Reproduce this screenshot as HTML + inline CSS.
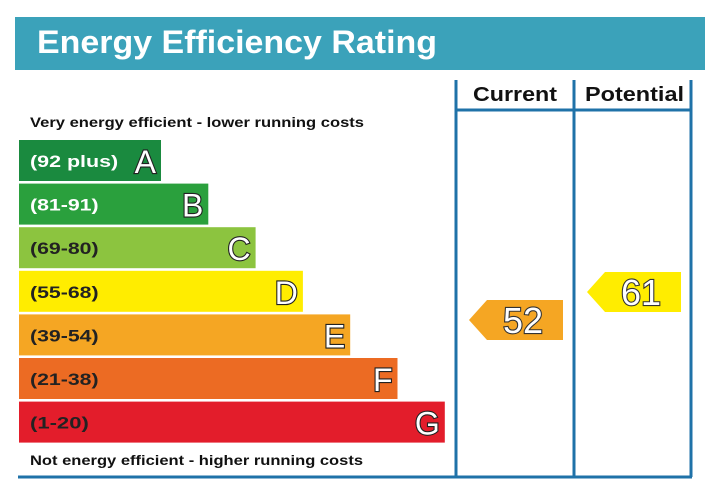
<!DOCTYPE html>
<html><head><meta charset="utf-8"><style>
html,body{margin:0;padding:0;background:#fff;}
svg{display:block;font-family:"Liberation Sans",Arial,sans-serif;}
</style></head><body>
<svg width="705" height="500" viewBox="0 0 705 500">
<rect x="15" y="17" width="690" height="53" fill="#3ba2ba"/>
<text x="37" y="53" font-size="32" font-weight="bold" fill="#fff" textLength="400" lengthAdjust="spacingAndGlyphs">Energy Efficiency Rating</text>
<text x="30" y="127" font-size="14" font-weight="bold" fill="#111" textLength="334" lengthAdjust="spacingAndGlyphs">Very energy efficient - lower running costs</text>
<text x="30" y="465" font-size="14" font-weight="bold" fill="#111" textLength="333" lengthAdjust="spacingAndGlyphs">Not energy efficient - higher running costs</text>
<g id="bands"></g>
<g id="arrows"></g>
<g fill="none" stroke="#1f72a8" stroke-width="3">
<line x1="456" y1="80" x2="456" y2="477"/>
<line x1="574" y1="80" x2="574" y2="477"/>
<line x1="691" y1="80" x2="691" y2="477"/>
<line x1="456" y1="110" x2="691" y2="110"/>
<line x1="18" y1="477" x2="692" y2="477"/>
</g>
<text x="473" y="101" font-size="20" font-weight="bold" fill="#111" textLength="84" lengthAdjust="spacingAndGlyphs">Current</text>
<text x="585" y="101" font-size="20" font-weight="bold" fill="#111" textLength="99" lengthAdjust="spacingAndGlyphs">Potential</text>
</svg>
<script>
const letters=["A","B","C","D","E","F","G"];
const ranges=["(92 plus)","(81-91)","(69-80)","(55-68)","(39-54)","(21-38)","(1-20)"];
const colors=["#1a8a3f","#2aa03d","#8cc43f","#ffed00","#f5a623","#ec6b23","#e31d2b"];
const ratingNames=["current","potential"];
const ratingValues=[52,61];
const ratingColors=["#f5a623","#ffed00"];
const NS="http://www.w3.org/2000/svg";
const bandY=i=>140+i*43.6, bandW=i=>142+i*47.3;
const valY=v=>292+(61-v)*3.11;
const colX=[469,587];
const bands=document.getElementById("bands");
function mk(tag,attrs,parent){const e=document.createElementNS(NS,tag);for(const k in attrs)e.setAttribute(k,attrs[k]);parent.appendChild(e);return e;}
letters.forEach((L,i)=>{
 const g=mk("g",{},bands);
 
 
 mk("rect",{x:19,y:bandY(i),width:bandW(i),height:41,fill:colors[i]},g);
 const t=mk("text",{x:30,y:bandY(i)+27,"font-size":17,"font-weight":"bold",fill:i<2?"#fff":"#222",textLength:ranges[i].length*9.8,lengthAdjust:"spacingAndGlyphs"},g);
 t.textContent=ranges[i];
 const l=mk("text",{x:19+bandW(i)-5,y:bandY(i)+33,"font-size":32,"text-anchor":"end",fill:"#fff",stroke:"#222","stroke-width":2.2,"paint-order":"stroke"},g);
 l.textContent=L;
});
const arrows=document.getElementById("arrows");
ratingValues.forEach((v,i)=>{
 const g=mk("g",{},arrows);
 
 
 const x=colX[i],c=valY(v);
 mk("polygon",{points:`${x},${c} ${x+18},${c-20} ${x+94},${c-20} ${x+94},${c+20} ${x+18},${c+20}`,fill:ratingColors[i]},g);
 const t=mk("text",{x:x+54,y:c+13,"font-size":36,"text-anchor":"middle",fill:"#fff",stroke:"#333","stroke-width":2.2,"paint-order":"stroke"},g);
 t.textContent=v;
});
</script>
</body></html>
